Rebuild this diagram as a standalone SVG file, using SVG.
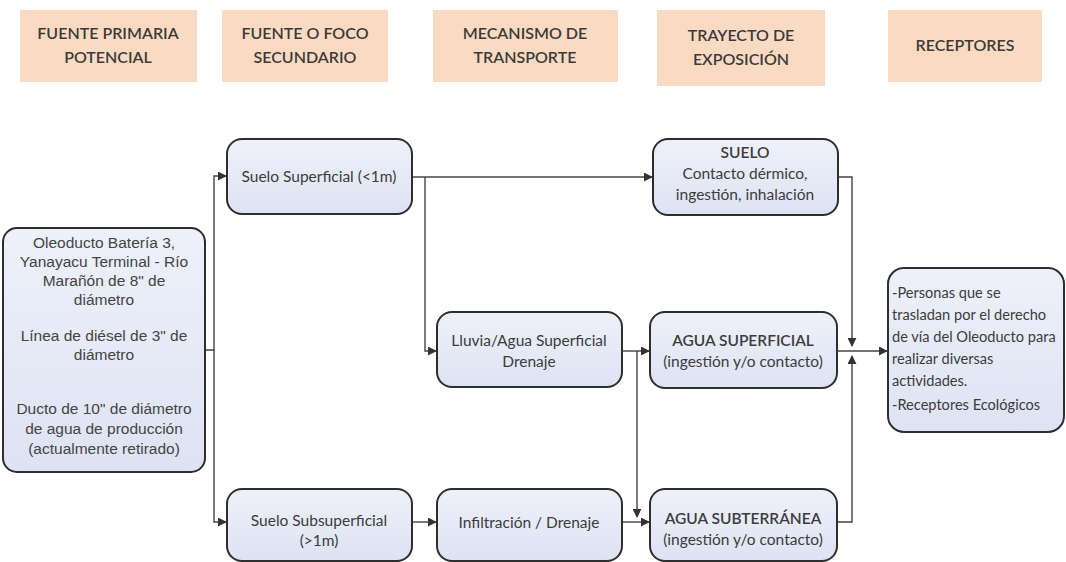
<svg xmlns="http://www.w3.org/2000/svg" width="1066" height="562" viewBox="0 0 1066 562">
<defs>
<linearGradient id="nodeGrad" x1="0" y1="0" x2="0" y2="1">
<stop offset="0" stop-color="#eef1fa"/>
<stop offset="1" stop-color="#dde3f3"/>
</linearGradient>
<marker id="arr" viewBox="0 0 10 10" refX="9" refY="5" markerWidth="9" markerHeight="9" markerUnits="userSpaceOnUse" orient="auto">
<path d="M0,0 L10,5 L0,10 z" fill="#333"/>
</marker>
</defs>
<style>
.hdr rect{fill:#fadbc1;}
.hdr text{font-family:Lato,"Open Sans",sans-serif;font-size:16px;font-weight:600;fill:#3a3a3a;text-anchor:middle;}
.node rect{fill:url(#nodeGrad);stroke:#2e2e2e;stroke-width:2;}
.node text{font-family:Lato,"Open Sans",sans-serif;font-size:15.5px;fill:#3c3c3c;text-anchor:middle;}
.arial text{font-family:"Liberation Sans",Arial,sans-serif;font-size:15.5px;fill:#444;}
.left text{text-anchor:start;font-size:14.6px;}
.b{font-weight:600;}
#connectors path{fill:none;stroke:#444;stroke-width:1.4;}
</style>
<rect width="1066" height="562" fill="#ffffff"/>

<g id="headers" class="hdr">
<rect x="20" y="10" width="177" height="72"/>
<text x="108" y="39">FUENTE PRIMARIA</text>
<text x="108" y="63">POTENCIAL</text>
<rect x="222" y="10" width="166" height="72"/>
<text x="305" y="39">FUENTE O FOCO</text>
<text x="305" y="63">SECUNDARIO</text>
<rect x="433" y="10" width="185" height="72"/>
<text x="525" y="39">MECANISMO DE</text>
<text x="525" y="63">TRANSPORTE</text>
<rect x="657" y="10" width="168" height="76"/>
<text x="741" y="41">TRAYECTO DE</text>
<text x="741" y="65">EXPOSICIÓN</text>
<rect x="888" y="10" width="154" height="72"/>
<text x="965" y="51">RECEPTORES</text>
</g>

<g id="connectors">
<path d="M205,350 H214 V176 H226" marker-end="url(#arr)"/>
<path d="M214,350 V522 H226" marker-end="url(#arr)"/>
<path d="M412,177 H652" marker-end="url(#arr)"/>
<path d="M425,177 V351 H436" marker-end="url(#arr)"/>
<path d="M622,351 H649" marker-end="url(#arr)"/>
<path d="M637,351 V517" marker-end="url(#arr)"/>
<path d="M412,522 H436" marker-end="url(#arr)"/>
<path d="M622,522 H649" marker-end="url(#arr)"/>
<path d="M838,177 H852 V346" marker-end="url(#arr)"/>
<path d="M837,522 H852 V356" marker-end="url(#arr)"/>
<path d="M837,351 H887" marker-end="url(#arr)"/>
</g>

<g id="n-fuente" class="node arial">
<rect x="3" y="228" width="202" height="244" rx="14"/>
<text x="104" y="248">Oleoducto Batería 3,</text>
<text x="104" y="267">Yanayacu Terminal - Río</text>
<text x="104" y="286">Marañón de 8" de</text>
<text x="104" y="305">diámetro</text>
<text x="104" y="341">Línea de diésel de 3" de</text>
<text x="104" y="360">diámetro</text>
<text x="104" y="414">Ducto de 10" de diámetro</text>
<text x="104" y="434">de agua de producción</text>
<text x="104" y="454">(actualmente retirado)</text>
</g>

<g id="n-suelo-sup" class="node">
<rect x="227" y="139" width="185" height="75" rx="15"/>
<text x="319" y="182">Suelo Superficial (&lt;1m)</text>
</g>

<g id="n-suelo-subsup" class="node">
<rect x="227" y="489" width="185" height="72" rx="15"/>
<text x="319" y="526">Suelo Subsuperficial</text>
<text x="319" y="546">(&gt;1m)</text>
</g>

<g id="n-lluvia" class="node">
<rect x="437" y="312" width="185" height="75" rx="15"/>
<text x="529" y="346">Lluvia/Agua Superficial</text>
<text x="529" y="367">Drenaje</text>
</g>

<g id="n-infiltracion" class="node">
<rect x="437" y="489" width="185" height="72" rx="15"/>
<text x="529" y="528">Infiltración / Drenaje</text>
</g>

<g id="n-suelo" class="node">
<rect x="653" y="139" width="185" height="76" rx="15"/>
<text x="745" y="158" class="b">SUELO</text>
<text x="745" y="179">Contacto dérmico,</text>
<text x="745" y="200">ingestión, inhalación</text>
</g>

<g id="n-agua-sup" class="node">
<rect x="650" y="312" width="187" height="76" rx="15"/>
<text x="743" y="346" class="b">AGUA SUPERFICIAL</text>
<text x="743" y="367">(ingestión y/o contacto)</text>
</g>

<g id="n-agua-sub" class="node">
<rect x="650" y="489" width="187" height="72" rx="15"/>
<text x="743" y="524" class="b">AGUA SUBTERRÁNEA</text>
<text x="743" y="545">(ingestión y/o contacto)</text>
</g>

<g id="n-receptores" class="node left">
<rect x="888" y="268" width="176" height="164" rx="16"/>
<text x="892" y="298">-Personas que se</text>
<text x="892" y="320">trasladan por el derecho</text>
<text x="892" y="342">de vía del Oleoducto para</text>
<text x="892" y="364">realizar diversas</text>
<text x="892" y="386">actividades.</text>
<text x="892" y="410">-Receptores Ecológicos</text>
</g>
</svg>
